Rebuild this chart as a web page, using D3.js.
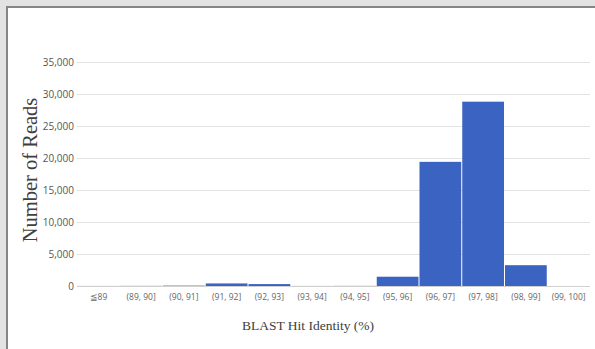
<!DOCTYPE html>
<html>
<head>
<meta charset="utf-8">
<script src="https://cdn.jsdelivr.net/npm/d3@7"></script>
<style>
  html, body { margin: 0; padding: 0; background: #e2e2e2; }
  svg { display: block; }
</style>
</head>
<body>
<svg id="chart" width="595" height="349"></svg>
<script>
// Histogram of read counts by BLAST hit identity bin
const categories = ["≦89", "(89, 90]", "(90, 91]", "(91, 92]", "(92, 93]", "(93, 94]",
                    "(94, 95]", "(95, 96]", "(96, 97]", "(97, 98]", "(98, 99]", "(99, 100]"];
const reads = [10, 20, 60, 400, 300, 10, 20, 1450, 19400, 28800, 3250, 0];
const yTicks = [0, 5000, 10000, 15000, 20000, 25000, 30000, 35000];

const svg = d3.select("#chart");
const W = 595, H = 349;

// framed white panel
svg.append("rect").attr("x", 0).attr("y", 0).attr("width", W).attr("height", H).attr("fill", "#e2e2e2");
svg.append("rect").attr("x", 7).attr("y", 7).attr("width", W).attr("height", H)
  .attr("fill", "#ffffff").attr("stroke", "#858585").attr("stroke-width", 2);

const plot = { left: 77, right: 590, top: 62, bottom: 286 };

const x = d3.scaleBand().domain(categories).range([plot.left, plot.right]).padding(0);
const y = d3.scaleLinear().domain([0, 35000]).range([plot.bottom, plot.top]);

// horizontal gridlines
svg.append("g").selectAll("line").data(yTicks).join("line")
  .attr("x1", plot.left).attr("x2", plot.right)
  .attr("y1", d => Math.round(y(d)) + 0.5).attr("y2", d => Math.round(y(d)) + 0.5)
  .attr("stroke", d => d === 0 ? "#d0d0d0" : "#e3e3e3").attr("stroke-width", 1);

// bars
svg.append("g").selectAll("rect").data(categories).join("rect")
  .attr("x", d => x(d) + 0.5)
  .attr("width", x.bandwidth() - 1)
  .attr("y", (d, i) => y(reads[i]))
  .attr("height", (d, i) => y(0) - y(reads[i]))
  .attr("fill", "#3a63c2");

// y axis labels
const yAxis = d3.axisLeft(y).tickValues(yTicks).tickSize(0).tickPadding(3)
  .tickFormat(d3.format(","));
const gy = svg.append("g").attr("transform", `translate(${plot.left},0)`).call(yAxis);
gy.select(".domain").remove();
gy.selectAll("text").attr("font-family", "'Open Sans', sans-serif").attr("font-size", 10)
  .attr("fill", "#555");

// x axis labels
const xAxis = d3.axisBottom(x).tickSize(0).tickPadding(8);
const gx = svg.append("g").attr("transform", `translate(0,${plot.bottom})`).call(xAxis);
gx.select(".domain").remove();
gx.selectAll("text").attr("font-family", "'Open Sans', sans-serif").attr("font-size", 8.5)
  .attr("fill", "#666");

// axis titles
svg.append("text")
  .attr("transform", `translate(37,170) rotate(-90)`)
  .attr("text-anchor", "middle")
  .attr("font-family", "'Liberation Serif', 'Times New Roman', serif")
  .attr("font-size", 20.5).attr("fill", "#404040")
  .text("Number of Reads");

svg.append("text")
  .attr("x", 308).attr("y", 330)
  .attr("text-anchor", "middle")
  .attr("font-family", "'Liberation Serif', 'Times New Roman', serif")
  .attr("font-size", 13.5).attr("fill", "#404040")
  .text("BLAST Hit Identity (%)");
</script>
</body>
</html>
